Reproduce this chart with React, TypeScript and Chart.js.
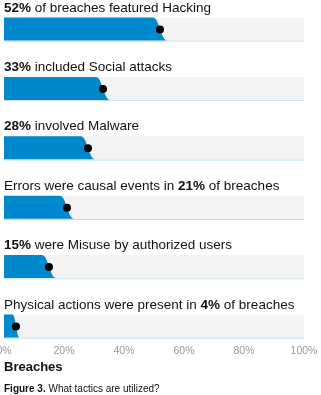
import React, { useEffect, useRef } from 'react';
import { Chart, registerables } from 'chart.js';

Chart.register(...registerables);

const categories = ['Hacking', 'Social', 'Malware', 'Error', 'Misuse', 'Physical'];
const values = [52, 33, 28, 21, 15, 4];
const trackValues = [100, 100, 100, 100, 100, 100];
const labelBefore = ['', '', '', 'Errors were causal events in ', '', 'Physical actions were present in '];
const labelBold = ['52%', '33%', '28%', '21%', '15%', '4%'];
const labelAfter = [
  ' of breaches featured Hacking',
  ' included Social attacks',
  ' involved Malware',
  ' of breaches',
  ' were Misuse by authorized users',
  ' of breaches',
];
const xTicks = [0, 20, 40, 60, 80, 100];
const axisTitle = 'Breaches';
const captionBold = 'Figure 3.';
const captionText = ' What tactics are utilized?';

const FONT = '"Liberation Sans", Arial, Helvetica, sans-serif';
const BLUE = '#0088ce';
const TRACK = '#f3f3f3';
const TRACK_LINE = '#bcdcf0';

const shapesAndText = {
  id: 'shapesAndText',
  afterDatasetDraw(chart: any, args: any) {
    if (args.index !== 1) return;
    const ctx = chart.ctx;
    ctx.save();
    ctx.fillStyle = BLUE;
    args.meta.data.forEach((el: any) => {
      const p = el.getProps(['x', 'y', 'base', 'height'], true);
      const top = p.y - p.height / 2;
      const bottom = p.y + p.height / 2 - 1;
      const w = Math.min(7, (p.x - p.base) * 0.3);
      ctx.beginPath();
      ctx.moveTo(p.base, top);
      ctx.lineTo(p.x - w, top);
      ctx.bezierCurveTo(p.x - w * 0.15, top, p.x + w * 0.15, bottom, p.x + w, bottom);
      ctx.lineTo(p.base, bottom);
      ctx.closePath();
      ctx.fill();
    });
    ctx.restore();
  },
  afterDraw(chart: any) {
    const ctx = chart.ctx;
    const yScale = chart.scales.y;
    const left = chart.chartArea.left;
    ctx.save();
    ctx.textBaseline = 'alphabetic';
    ctx.fillStyle = '#111';
    categories.forEach((_, i) => {
      const y = yScale.getPixelForValue(i) - 18;
      let x = left;
      const parts: [string, boolean][] = [
        [labelBefore[i], false],
        [labelBold[i], true],
        [labelAfter[i], false],
      ];
      parts.forEach(([t, b]) => {
        if (!t) return;
        ctx.font = (b ? 'bold ' : '') + '13.5px ' + FONT;
        ctx.fillText(t, x, y);
        x += ctx.measureText(t).width;
      });
    });
    // caption
    const cy = chart.height - 3.5;
    let cx = left;
    ctx.font = 'bold 10px ' + FONT;
    ctx.fillText(captionBold, cx, cy);
    cx += ctx.measureText(captionBold).width;
    ctx.font = '10px ' + FONT;
    ctx.fillText(captionText, cx, cy);
    ctx.restore();
  },
};

export default function App() {
  const ref = useRef<HTMLCanvasElement | null>(null);
  useEffect(() => {
    document.body.style.margin = '0';
    const canvas = ref.current!;
    const chart = new Chart(canvas, {
      type: 'bar',
      data: {
        labels: categories,
        datasets: [
          {
            type: 'line',
            label: 'dot',
            data: values,
            indexAxis: 'y',
            showLine: false,
            pointRadius: 4,
            pointHoverRadius: 4,
            pointBackgroundColor: '#000',
            pointBorderWidth: 0,
            borderColor: '#000',
            clip: false,
            order: 1,
          } as any,
          {
            label: 'value',
            data: values,
            backgroundColor: 'rgba(0,0,0,0)',
            barThickness: 24,
            grouped: false,
            clip: false,
            order: 2,
          },
          {
            label: 'track',
            data: trackValues,
            backgroundColor: TRACK,
            borderColor: TRACK_LINE,
            borderWidth: { top: 0, left: 0, right: 0, bottom: 1 },
            borderSkipped: false,
            barThickness: 24,
            grouped: false,
            clip: false,
            order: 3,
          },
        ],
      },
      options: {
        indexAxis: 'y',
        animation: false,
        responsive: false,
        maintainAspectRatio: false,
        layout: { padding: { left: 4, right: 17, top: 29.5, bottom: 20 } },
        plugins: { legend: { display: false }, tooltip: { enabled: false } },
        events: [],
        scales: {
          y: {
            type: 'category',
            offset: false,
            display: false,
            grid: { display: false },
          },
          x: {
            type: 'linear',
            min: 0,
            max: 100,
            afterBuildTicks: (scale: any) => {
              scale.ticks = xTicks.map((v) => ({ value: v }));
            },
            afterFit: (scale: any) => {
              scale.paddingLeft = 0;
              scale.paddingRight = 0;
              scale.height = 48.5;
            },
            grid: { display: false, drawTicks: false },
            border: { display: false },
            ticks: {
              padding: 18,
              color: '#999',
              font: { family: FONT, size: 10.5 },
              maxRotation: 0,
              callback: (v: any) => v + '%',
            },
            title: {
              display: true,
              text: axisTitle,
              align: 'start',
              color: '#111',
              font: { family: FONT, size: 13, weight: 'bold' },
              padding: { top: 1.5, bottom: 0 },
            },
          },
        },
      },
      plugins: [shapesAndText],
    });
    return () => chart.destroy();
  }, []);
  return <canvas ref={ref} width={321} height={395} style={{ display: 'block', width: 321, height: 395 }} />;
}
